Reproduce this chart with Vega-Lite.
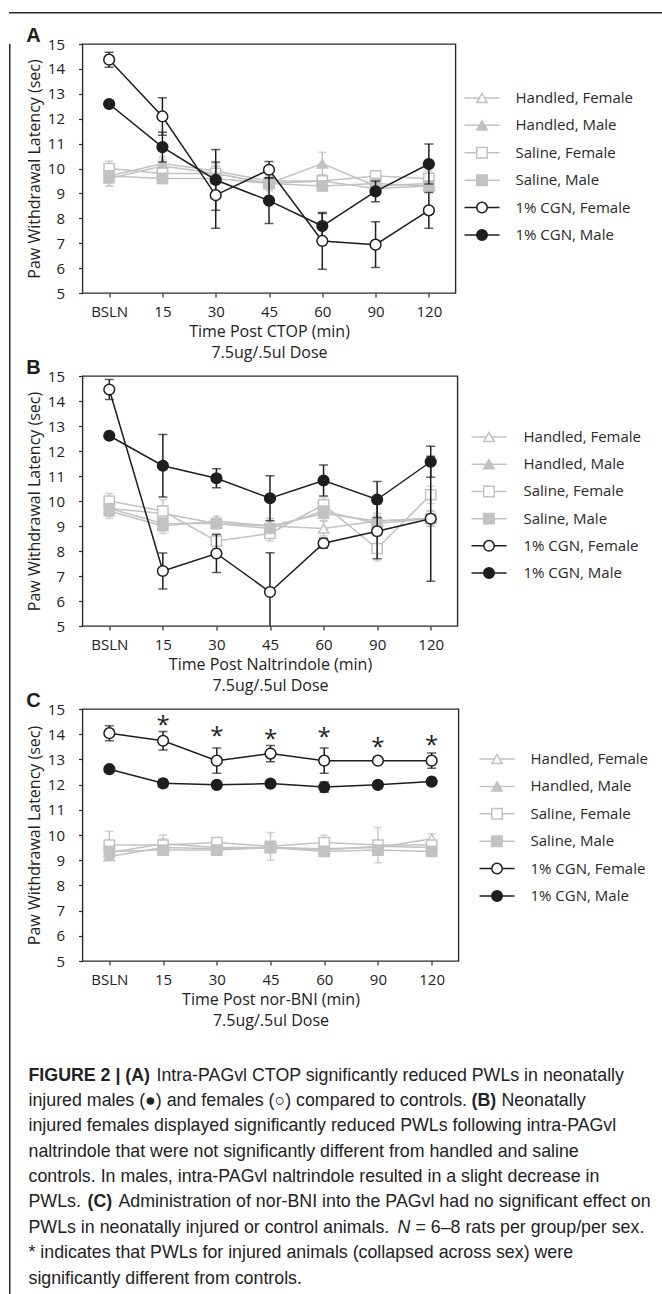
{
  "$schema": "https://vega.github.io/schema/vega-lite/v6.json",
  "background": "white",
  "padding": {"left": 9, "top": 12, "right": 0, "bottom": 0},
  "columns": 1,
  "align": "none",
  "spacing": 0,
  "datasets": {
    "pwl": [
      {"panel":"A","series":"Handled, Female","time":"BSLN","value":9.7,"err":0.25},
      {"panel":"A","series":"Handled, Female","time":"15","value":10.2,"err":0.25},
      {"panel":"A","series":"Handled, Female","time":"30","value":9.9,"err":0.3},
      {"panel":"A","series":"Handled, Female","time":"45","value":9.5,"err":0.25},
      {"panel":"A","series":"Handled, Female","time":"60","value":9.5,"err":0.25},
      {"panel":"A","series":"Handled, Female","time":"90","value":9.2,"err":0.2},
      {"panel":"A","series":"Handled, Female","time":"120","value":9.3,"err":0.25},
      {"panel":"A","series":"Handled, Male","time":"BSLN","value":9.6,"err":0.3},
      {"panel":"A","series":"Handled, Male","time":"15","value":10.1,"err":0.25},
      {"panel":"A","series":"Handled, Male","time":"30","value":9.8,"err":0.3},
      {"panel":"A","series":"Handled, Male","time":"45","value":9.4,"err":0.25},
      {"panel":"A","series":"Handled, Male","time":"60","value":10.2,"err":0.45},
      {"panel":"A","series":"Handled, Male","time":"90","value":9.3,"err":0.2},
      {"panel":"A","series":"Handled, Male","time":"120","value":9.4,"err":0.2},
      {"panel":"A","series":"Saline, Female","time":"BSLN","value":10.0,"err":0.3},
      {"panel":"A","series":"Saline, Female","time":"15","value":9.8,"err":0.3},
      {"panel":"A","series":"Saline, Female","time":"30","value":9.8,"err":0.3},
      {"panel":"A","series":"Saline, Female","time":"45","value":9.4,"err":0.3},
      {"panel":"A","series":"Saline, Female","time":"60","value":9.5,"err":0.25},
      {"panel":"A","series":"Saline, Female","time":"90","value":9.7,"err":0.2},
      {"panel":"A","series":"Saline, Female","time":"120","value":9.6,"err":0.3},
      {"panel":"A","series":"Saline, Male","time":"BSLN","value":9.7,"err":0.4},
      {"panel":"A","series":"Saline, Male","time":"15","value":9.6,"err":0.2},
      {"panel":"A","series":"Saline, Male","time":"30","value":9.6,"err":0.2},
      {"panel":"A","series":"Saline, Male","time":"45","value":9.4,"err":0.2},
      {"panel":"A","series":"Saline, Male","time":"60","value":9.3,"err":0.2},
      {"panel":"A","series":"Saline, Male","time":"90","value":9.4,"err":0.2},
      {"panel":"A","series":"Saline, Male","time":"120","value":9.3,"err":0.2},
      {"panel":"A","series":"1% CGN, Female","time":"BSLN","value":14.37,"err":0.3},
      {"panel":"A","series":"1% CGN, Female","time":"15","value":12.09,"err":0.75},
      {"panel":"A","series":"1% CGN, Female","time":"30","value":8.93,"err":1.33},
      {"panel":"A","series":"1% CGN, Female","time":"45","value":9.95,"err":0.33},
      {"panel":"A","series":"1% CGN, Female","time":"60","value":7.09,"err":1.14},
      {"panel":"A","series":"1% CGN, Female","time":"90","value":6.94,"err":0.92},
      {"panel":"A","series":"1% CGN, Female","time":"120","value":8.32,"err":0.72},
      {"panel":"A","series":"1% CGN, Male","time":"BSLN","value":12.59,"err":0.1},
      {"panel":"A","series":"1% CGN, Male","time":"15","value":10.86,"err":0.6},
      {"panel":"A","series":"1% CGN, Male","time":"30","value":9.54,"err":1.22},
      {"panel":"A","series":"1% CGN, Male","time":"45","value":8.71,"err":0.92},
      {"panel":"A","series":"1% CGN, Male","time":"60","value":7.69,"err":0.5},
      {"panel":"A","series":"1% CGN, Male","time":"90","value":9.08,"err":0.42},
      {"panel":"A","series":"1% CGN, Male","time":"120","value":10.18,"err":0.8},

      {"panel":"B","series":"Handled, Female","time":"BSLN","value":9.7,"err":0.3},
      {"panel":"B","series":"Handled, Female","time":"15","value":9.5,"err":0.3},
      {"panel":"B","series":"Handled, Female","time":"30","value":9.1,"err":0.2},
      {"panel":"B","series":"Handled, Female","time":"45","value":9.0,"err":0.3},
      {"panel":"B","series":"Handled, Female","time":"60","value":8.9,"err":0.3},
      {"panel":"B","series":"Handled, Female","time":"90","value":9.2,"err":0.3},
      {"panel":"B","series":"Handled, Female","time":"120","value":9.3,"err":0.3},
      {"panel":"B","series":"Handled, Male","time":"BSLN","value":9.6,"err":0.3},
      {"panel":"B","series":"Handled, Male","time":"15","value":9.0,"err":0.3},
      {"panel":"B","series":"Handled, Male","time":"30","value":9.2,"err":0.2},
      {"panel":"B","series":"Handled, Male","time":"45","value":9.0,"err":0.3},
      {"panel":"B","series":"Handled, Male","time":"60","value":9.5,"err":0.3},
      {"panel":"B","series":"Handled, Male","time":"90","value":9.2,"err":0.3},
      {"panel":"B","series":"Handled, Male","time":"120","value":9.3,"err":0.3},
      {"panel":"B","series":"Saline, Female","time":"BSLN","value":10.0,"err":0.3},
      {"panel":"B","series":"Saline, Female","time":"15","value":9.6,"err":0.45},
      {"panel":"B","series":"Saline, Female","time":"30","value":8.4,"err":0.3},
      {"panel":"B","series":"Saline, Female","time":"45","value":8.7,"err":0.3},
      {"panel":"B","series":"Saline, Female","time":"60","value":9.85,"err":0.3},
      {"panel":"B","series":"Saline, Female","time":"90","value":8.1,"err":0.5},
      {"panel":"B","series":"Saline, Female","time":"120","value":10.25,"err":0.35},
      {"panel":"B","series":"Saline, Male","time":"BSLN","value":9.7,"err":0.3},
      {"panel":"B","series":"Saline, Male","time":"15","value":9.1,"err":0.3},
      {"panel":"B","series":"Saline, Male","time":"30","value":9.1,"err":0.2},
      {"panel":"B","series":"Saline, Male","time":"45","value":8.9,"err":0.3},
      {"panel":"B","series":"Saline, Male","time":"60","value":9.6,"err":0.3},
      {"panel":"B","series":"Saline, Male","time":"90","value":9.1,"err":0.3},
      {"panel":"B","series":"Saline, Male","time":"120","value":9.3,"err":0.3},
      {"panel":"B","series":"1% CGN, Female","time":"BSLN","value":14.46,"err":0.4},
      {"panel":"B","series":"1% CGN, Female","time":"15","value":7.2,"err":0.72},
      {"panel":"B","series":"1% CGN, Female","time":"30","value":7.9,"err":0.76},
      {"panel":"B","series":"1% CGN, Female","time":"45","value":6.36,"err":1.57},
      {"panel":"B","series":"1% CGN, Female","time":"60","value":8.31,"err":0.2},
      {"panel":"B","series":"1% CGN, Female","time":"90","value":8.79,"err":1.1},
      {"panel":"B","series":"1% CGN, Female","time":"120","value":9.29,"err":2.5},
      {"panel":"B","series":"1% CGN, Male","time":"BSLN","value":12.61,"err":0.1},
      {"panel":"B","series":"1% CGN, Male","time":"15","value":11.41,"err":1.25},
      {"panel":"B","series":"1% CGN, Male","time":"30","value":10.91,"err":0.38},
      {"panel":"B","series":"1% CGN, Male","time":"45","value":10.11,"err":0.9},
      {"panel":"B","series":"1% CGN, Male","time":"60","value":10.82,"err":0.62},
      {"panel":"B","series":"1% CGN, Male","time":"90","value":10.06,"err":0.72},
      {"panel":"B","series":"1% CGN, Male","time":"120","value":11.57,"err":0.62},

      {"panel":"C","series":"Handled, Female","time":"BSLN","value":9.3,"err":0.2},
      {"panel":"C","series":"Handled, Female","time":"15","value":9.65,"err":0.2},
      {"panel":"C","series":"Handled, Female","time":"30","value":9.5,"err":0.2},
      {"panel":"C","series":"Handled, Female","time":"45","value":9.5,"err":0.2},
      {"panel":"C","series":"Handled, Female","time":"60","value":9.45,"err":0.2},
      {"panel":"C","series":"Handled, Female","time":"90","value":9.5,"err":0.2},
      {"panel":"C","series":"Handled, Female","time":"120","value":9.85,"err":0.2},
      {"panel":"C","series":"Handled, Male","time":"BSLN","value":9.15,"err":0.15},
      {"panel":"C","series":"Handled, Male","time":"15","value":9.5,"err":0.15},
      {"panel":"C","series":"Handled, Male","time":"30","value":9.45,"err":0.15},
      {"panel":"C","series":"Handled, Male","time":"45","value":9.5,"err":0.15},
      {"panel":"C","series":"Handled, Male","time":"60","value":9.4,"err":0.15},
      {"panel":"C","series":"Handled, Male","time":"90","value":9.55,"err":0.15},
      {"panel":"C","series":"Handled, Male","time":"120","value":9.5,"err":0.15},
      {"panel":"C","series":"Saline, Female","time":"BSLN","value":9.6,"err":0.55},
      {"panel":"C","series":"Saline, Female","time":"15","value":9.6,"err":0.4},
      {"panel":"C","series":"Saline, Female","time":"30","value":9.7,"err":0.2},
      {"panel":"C","series":"Saline, Female","time":"45","value":9.55,"err":0.55},
      {"panel":"C","series":"Saline, Female","time":"60","value":9.7,"err":0.3},
      {"panel":"C","series":"Saline, Female","time":"90","value":9.6,"err":0.7},
      {"panel":"C","series":"Saline, Female","time":"120","value":9.6,"err":0.2},
      {"panel":"C","series":"Saline, Male","time":"BSLN","value":9.35,"err":0.15},
      {"panel":"C","series":"Saline, Male","time":"15","value":9.4,"err":0.15},
      {"panel":"C","series":"Saline, Male","time":"30","value":9.4,"err":0.15},
      {"panel":"C","series":"Saline, Male","time":"45","value":9.5,"err":0.15},
      {"panel":"C","series":"Saline, Male","time":"60","value":9.35,"err":0.15},
      {"panel":"C","series":"Saline, Male","time":"90","value":9.4,"err":0.15},
      {"panel":"C","series":"Saline, Male","time":"120","value":9.35,"err":0.15},
      {"panel":"C","series":"1% CGN, Female","time":"BSLN","value":14.04,"err":0.3},
      {"panel":"C","series":"1% CGN, Female","time":"15","value":13.74,"err":0.37},
      {"panel":"C","series":"1% CGN, Female","time":"30","value":12.95,"err":0.5},
      {"panel":"C","series":"1% CGN, Female","time":"45","value":13.23,"err":0.32},
      {"panel":"C","series":"1% CGN, Female","time":"60","value":12.95,"err":0.5},
      {"panel":"C","series":"1% CGN, Female","time":"90","value":12.95,"err":0.08},
      {"panel":"C","series":"1% CGN, Female","time":"120","value":12.95,"err":0.3},
      {"panel":"C","series":"1% CGN, Male","time":"BSLN","value":12.61,"err":0.1},
      {"panel":"C","series":"1% CGN, Male","time":"15","value":12.05,"err":0.15},
      {"panel":"C","series":"1% CGN, Male","time":"30","value":11.99,"err":0.1},
      {"panel":"C","series":"1% CGN, Male","time":"45","value":12.04,"err":0.1},
      {"panel":"C","series":"1% CGN, Male","time":"60","value":11.9,"err":0.2},
      {"panel":"C","series":"1% CGN, Male","time":"90","value":11.99,"err":0.12},
      {"panel":"C","series":"1% CGN, Male","time":"120","value":12.12,"err":0.15}
    ],
    "stars": [
      {"panel":"C","time":"15","value":14.57},
      {"panel":"C","time":"30","value":14.11},
      {"panel":"C","time":"45","value":14.0},
      {"panel":"C","time":"60","value":14.08},
      {"panel":"C","time":"90","value":13.68},
      {"panel":"C","time":"120","value":13.77}
    ],
    "series": [
      {"series":"Handled, Female"},
      {"series":"Handled, Male"},
      {"series":"Saline, Female"},
      {"series":"Saline, Male"},
      {"series":"1% CGN, Female"},
      {"series":"1% CGN, Male"}
    ],
    "caption": [
      {"line":1,"part":"b","text":"FIGURE 2 | (A)"},
      {"line":1,"part":"m","text":"Intra-PAGvl CTOP significantly reduced PWLs in neonatally"},
      {"line":2,"part":"a","text":"injured males (●) and females (○) compared to controls."},
      {"line":2,"part":"b","text":"(B)"},
      {"line":2,"part":"m","text":"Neonatally"},
      {"line":3,"part":"a","text":"injured females displayed significantly reduced PWLs following intra-PAGvl"},
      {"line":4,"part":"a","text":"naltrindole that were not significantly different from handled and saline"},
      {"line":5,"part":"a","text":"controls. In males, intra-PAGvl naltrindole resulted in a slight decrease in"},
      {"line":6,"part":"a","text":"PWLs."},
      {"line":6,"part":"b","text":"(C)"},
      {"line":6,"part":"m","text":"Administration of nor-BNI into the PAGvl had no significant effect on"},
      {"line":7,"part":"a","text":"PWLs in neonatally injured or control animals."},
      {"line":7,"part":"i","text":"N"},
      {"line":7,"part":"m","text":"= 6–8 rats per group/per sex."},
      {"line":8,"part":"a","text":"* indicates that PWLs for injured animals (collapsed across sex) were"},
      {"line":9,"part":"a","text":"significantly different from controls."}
    ]
  },
  "concat": [
    {"width": 653, "height": 1.5, "data": {"values": []}, "mark": "point", "view": {"stroke": null, "fill": "#2a2a2a"}},
    {
      "columns": 2,
      "align": "none",
      "spacing": 14.5,
      "concat": [
        {"width": 1.5, "height": 1280.5, "data": {"values": []}, "mark": "point", "view": {"stroke": null, "fill": "#2a2a2a"}},
        {
          "title": {"text": " ", "fontSize": 10, "offset": 0.5, "anchor": "start"},
          "columns": 1,
          "align": "none",
          "spacing": -4,
          "concat": [
            {
              "bounds": "flush",
              "center": true,
              "spacing": 9,
              "hconcat": [
                {
                  "width": 373, "height": 249,
                  "title": {"text": "A", "anchor": "start", "frame": "bounds", "font": "Liberation Sans", "fontSize": 20, "fontWeight": "bold", "color": "#1e1e1e", "baseline": "alphabetic", "offset": -25},
                  "data": {"name": "pwl"},
                  "transform": [{"filter": "datum.panel == 'A'"}],
                  "encoding": {
                    "x": {"field": "time", "type": "ordinal", "scale": {"type": "point", "domain": ["BSLN","15","30","45","60","90","120"], "padding": 0.5}, "axis": {"title": ["Time Post CTOP (min)", "7.5ug/.5ul Dose"]}},
                    "y": {"field": "value", "type": "quantitative", "scale": {"domain": [5, 15], "nice": false, "zero": false}, "axis": {"title": "Paw Withdrawal Latency (sec)", "values": [5,6,7,8,9,10,11,12,13,14,15]}}
                  },
                  "layer": [
                    {"transform": [{"filter": "indexof(datum.series, 'CGN') < 0"}], "mark": {"type": "line", "strokeWidth": 1.5}, "encoding": {"order": {"value": null}, "stroke": {"field": "series", "type": "nominal", "scale": {"domain": ["Handled, Female","Handled, Male","Saline, Female","Saline, Male","1% CGN, Female","1% CGN, Male"], "range": ["#c2c2c2","#c2c2c2","#c2c2c2","#c2c2c2","#1e1e1e","#1e1e1e"]}, "legend": null}}},
                    {"transform": [{"filter": "indexof(datum.series, 'CGN') < 0"}], "mark": {"type": "errorbar", "color": "#c2c2c2", "thickness": 1.4, "ticks": {"size": 8}, "clip": true}, "encoding": {"yError": {"field": "err"}}},
                    {"transform": [{"filter": "indexof(datum.series, 'CGN') < 0"}], "mark": {"type": "point", "size": 105, "strokeWidth": 1.5, "opacity": 1}, "encoding": {
                      "shape": {"field": "series", "type": "nominal", "scale": {"domain": ["Handled, Female","Handled, Male","Saline, Female","Saline, Male","1% CGN, Female","1% CGN, Male"], "range": ["triangle-up","triangle-up","square","square","circle","circle"]}, "legend": null},
                      "fill": {"field": "series", "type": "nominal", "scale": {"domain": ["Handled, Female","Handled, Male","Saline, Female","Saline, Male","1% CGN, Female","1% CGN, Male"], "range": ["#ffffff","#c2c2c2","#ffffff","#c2c2c2","#ffffff","#1e1e1e"]}, "legend": null},
                      "stroke": {"field": "series", "type": "nominal", "legend": null}}},
                    {"transform": [{"filter": "indexof(datum.series, 'CGN') >= 0"}], "mark": {"type": "errorbar", "color": "#1e1e1e", "thickness": 1.5, "ticks": {"size": 9}, "clip": true}, "encoding": {"yError": {"field": "err"}}},
                    {"transform": [{"filter": "indexof(datum.series, 'CGN') >= 0"}], "mark": {"type": "line", "strokeWidth": 1.5}, "encoding": {"order": {"value": null}, "stroke": {"field": "series", "type": "nominal", "legend": null}}},
                    {"transform": [{"filter": "indexof(datum.series, 'CGN') >= 0"}], "mark": {"type": "point", "size": 115, "strokeWidth": 1.5, "opacity": 1}, "encoding": {
                      "shape": {"field": "series", "type": "nominal", "legend": null},
                      "fill": {"field": "series", "type": "nominal", "legend": null},
                      "stroke": {"field": "series", "type": "nominal", "legend": null}}}
                  ]
                },
                {
                  "width": 35, "height": 191.8,
                  "view": {"stroke": null},
                  "data": {"name": "series"},
                  "encoding": {"y": {"field": "series", "type": "nominal", "scale": {"type": "point", "domain": ["Handled, Female","Handled, Male","Saline, Female","Saline, Male","1% CGN, Female","1% CGN, Male"], "padding": 1, "align": 0.463}, "axis": null}},
                  "layer": [
                    {"mark": {"type": "rule", "strokeWidth": 1.5}, "encoding": {"x": {"datum": 0, "type": "quantitative", "scale": {"domain": [0, 1], "nice": false}, "axis": null}, "x2": {"datum": 1}, "stroke": {"field": "series", "type": "nominal", "scale": {"domain": ["Handled, Female","Handled, Male","Saline, Female","Saline, Male","1% CGN, Female","1% CGN, Male"], "range": ["#c2c2c2","#c2c2c2","#c2c2c2","#c2c2c2","#1e1e1e","#1e1e1e"]}, "legend": null}}},
                    {"mark": {"type": "point", "size": 110, "strokeWidth": 1.5, "opacity": 1}, "encoding": {"x": {"datum": 0.5, "type": "quantitative"},
                      "shape": {"field": "series", "type": "nominal", "scale": {"domain": ["Handled, Female","Handled, Male","Saline, Female","Saline, Male","1% CGN, Female","1% CGN, Male"], "range": ["triangle-up","triangle-up","square","square","circle","circle"]}, "legend": null},
                      "fill": {"field": "series", "type": "nominal", "scale": {"domain": ["Handled, Female","Handled, Male","Saline, Female","Saline, Male","1% CGN, Female","1% CGN, Male"], "range": ["#ffffff","#c2c2c2","#ffffff","#c2c2c2","#ffffff","#1e1e1e"]}, "legend": null},
                      "stroke": {"field": "series", "type": "nominal", "legend": null}}},
                    {"mark": {"type": "text", "align": "left", "baseline": "middle", "dx": 16, "font": "Open Sans", "fontSize": 15, "color": "#2a2a2a"}, "encoding": {"x": {"datum": 1, "type": "quantitative"}, "text": {"field": "series"}}}
                  ]
                }
              ]
            },
            {
              "bounds": "flush",
              "center": true,
              "spacing": 14,
              "hconcat": [
                {
                  "width": 375, "height": 250,
                  "title": {"text": "B", "anchor": "start", "frame": "bounds", "font": "Liberation Sans", "fontSize": 20, "fontWeight": "bold", "color": "#1e1e1e", "baseline": "alphabetic", "offset": -25},
                  "data": {"name": "pwl"},
                  "transform": [{"filter": "datum.panel == 'B'"}],
                  "encoding": {
                    "x": {"field": "time", "type": "ordinal", "scale": {"type": "point", "domain": ["BSLN","15","30","45","60","90","120"], "padding": 0.5}, "axis": {"title": ["Time Post Naltrindole (min)", "7.5ug/.5ul Dose"]}},
                    "y": {"field": "value", "type": "quantitative", "scale": {"domain": [5, 15], "nice": false, "zero": false}, "axis": {"title": "Paw Withdrawal Latency (sec)", "values": [5,6,7,8,9,10,11,12,13,14,15]}}
                  },
                  "layer": [
                    {"transform": [{"filter": "indexof(datum.series, 'CGN') < 0"}], "mark": {"type": "line", "strokeWidth": 1.5}, "encoding": {"order": {"value": null}, "stroke": {"field": "series", "type": "nominal", "scale": {"domain": ["Handled, Female","Handled, Male","Saline, Female","Saline, Male","1% CGN, Female","1% CGN, Male"], "range": ["#c2c2c2","#c2c2c2","#c2c2c2","#c2c2c2","#1e1e1e","#1e1e1e"]}, "legend": null}}},
                    {"transform": [{"filter": "indexof(datum.series, 'CGN') < 0"}], "mark": {"type": "errorbar", "color": "#c2c2c2", "thickness": 1.4, "ticks": {"size": 8}, "clip": true}, "encoding": {"yError": {"field": "err"}}},
                    {"transform": [{"filter": "indexof(datum.series, 'CGN') < 0"}], "mark": {"type": "point", "size": 105, "strokeWidth": 1.5, "opacity": 1}, "encoding": {
                      "shape": {"field": "series", "type": "nominal", "scale": {"domain": ["Handled, Female","Handled, Male","Saline, Female","Saline, Male","1% CGN, Female","1% CGN, Male"], "range": ["triangle-up","triangle-up","square","square","circle","circle"]}, "legend": null},
                      "fill": {"field": "series", "type": "nominal", "scale": {"domain": ["Handled, Female","Handled, Male","Saline, Female","Saline, Male","1% CGN, Female","1% CGN, Male"], "range": ["#ffffff","#c2c2c2","#ffffff","#c2c2c2","#ffffff","#1e1e1e"]}, "legend": null},
                      "stroke": {"field": "series", "type": "nominal", "legend": null}}},
                    {"transform": [{"filter": "indexof(datum.series, 'CGN') >= 0"}], "mark": {"type": "errorbar", "color": "#1e1e1e", "thickness": 1.5, "ticks": {"size": 9}, "clip": true}, "encoding": {"yError": {"field": "err"}}},
                    {"transform": [{"filter": "indexof(datum.series, 'CGN') >= 0"}], "mark": {"type": "line", "strokeWidth": 1.5}, "encoding": {"order": {"value": null}, "stroke": {"field": "series", "type": "nominal", "legend": null}}},
                    {"transform": [{"filter": "indexof(datum.series, 'CGN') >= 0"}], "mark": {"type": "point", "size": 115, "strokeWidth": 1.5, "opacity": 1}, "encoding": {
                      "shape": {"field": "series", "type": "nominal", "legend": null},
                      "fill": {"field": "series", "type": "nominal", "legend": null},
                      "stroke": {"field": "series", "type": "nominal", "legend": null}}}
                  ]
                },
                {
                  "width": 35, "height": 190.4,
                  "view": {"stroke": null},
                  "data": {"name": "series"},
                  "encoding": {"y": {"field": "series", "type": "nominal", "scale": {"type": "point", "domain": ["Handled, Female","Handled, Male","Saline, Female","Saline, Male","1% CGN, Female","1% CGN, Male"], "padding": 1, "align": 0.574}, "axis": null}},
                  "layer": [
                    {"mark": {"type": "rule", "strokeWidth": 1.5}, "encoding": {"x": {"datum": 0, "type": "quantitative", "scale": {"domain": [0, 1], "nice": false}, "axis": null}, "x2": {"datum": 1}, "stroke": {"field": "series", "type": "nominal", "scale": {"domain": ["Handled, Female","Handled, Male","Saline, Female","Saline, Male","1% CGN, Female","1% CGN, Male"], "range": ["#c2c2c2","#c2c2c2","#c2c2c2","#c2c2c2","#1e1e1e","#1e1e1e"]}, "legend": null}}},
                    {"mark": {"type": "point", "size": 110, "strokeWidth": 1.5, "opacity": 1}, "encoding": {"x": {"datum": 0.5, "type": "quantitative"},
                      "shape": {"field": "series", "type": "nominal", "scale": {"domain": ["Handled, Female","Handled, Male","Saline, Female","Saline, Male","1% CGN, Female","1% CGN, Male"], "range": ["triangle-up","triangle-up","square","square","circle","circle"]}, "legend": null},
                      "fill": {"field": "series", "type": "nominal", "scale": {"domain": ["Handled, Female","Handled, Male","Saline, Female","Saline, Male","1% CGN, Female","1% CGN, Male"], "range": ["#ffffff","#c2c2c2","#ffffff","#c2c2c2","#ffffff","#1e1e1e"]}, "legend": null},
                      "stroke": {"field": "series", "type": "nominal", "legend": null}}},
                    {"mark": {"type": "text", "align": "left", "baseline": "middle", "dx": 17, "font": "Open Sans", "fontSize": 15, "color": "#2a2a2a"}, "encoding": {"x": {"datum": 1, "type": "quantitative"}, "text": {"field": "series"}}}
                  ]
                }
              ]
            },
            {
              "bounds": "flush",
              "center": true,
              "spacing": 21,
              "hconcat": [
                {
                  "width": 376, "height": 252,
                  "title": {"text": "C", "anchor": "start", "frame": "bounds", "font": "Liberation Sans", "fontSize": 20, "fontWeight": "bold", "color": "#1e1e1e", "baseline": "alphabetic", "offset": -25},
                  "data": {"name": "pwl"},
                  "transform": [{"filter": "datum.panel == 'C'"}],
                  "encoding": {
                    "x": {"field": "time", "type": "ordinal", "scale": {"type": "point", "domain": ["BSLN","15","30","45","60","90","120"], "padding": 0.5}, "axis": {"title": ["Time Post nor-BNI (min)", "7.5ug/.5ul Dose"]}},
                    "y": {"field": "value", "type": "quantitative", "scale": {"domain": [5, 15], "nice": false, "zero": false}, "axis": {"title": "Paw Withdrawal Latency (sec)", "values": [5,6,7,8,9,10,11,12,13,14,15]}}
                  },
                  "layer": [
                    {"transform": [{"filter": "indexof(datum.series, 'CGN') < 0"}], "mark": {"type": "line", "strokeWidth": 1.5}, "encoding": {"order": {"value": null}, "stroke": {"field": "series", "type": "nominal", "scale": {"domain": ["Handled, Female","Handled, Male","Saline, Female","Saline, Male","1% CGN, Female","1% CGN, Male"], "range": ["#c2c2c2","#c2c2c2","#c2c2c2","#c2c2c2","#1e1e1e","#1e1e1e"]}, "legend": null}}},
                    {"transform": [{"filter": "indexof(datum.series, 'CGN') < 0"}], "mark": {"type": "errorbar", "color": "#c2c2c2", "thickness": 1.4, "ticks": {"size": 8}, "clip": true}, "encoding": {"yError": {"field": "err"}}},
                    {"transform": [{"filter": "indexof(datum.series, 'CGN') < 0"}], "mark": {"type": "point", "size": 105, "strokeWidth": 1.5, "opacity": 1}, "encoding": {
                      "shape": {"field": "series", "type": "nominal", "scale": {"domain": ["Handled, Female","Handled, Male","Saline, Female","Saline, Male","1% CGN, Female","1% CGN, Male"], "range": ["triangle-up","triangle-up","square","square","circle","circle"]}, "legend": null},
                      "fill": {"field": "series", "type": "nominal", "scale": {"domain": ["Handled, Female","Handled, Male","Saline, Female","Saline, Male","1% CGN, Female","1% CGN, Male"], "range": ["#ffffff","#c2c2c2","#ffffff","#c2c2c2","#ffffff","#1e1e1e"]}, "legend": null},
                      "stroke": {"field": "series", "type": "nominal", "legend": null}}},
                    {"transform": [{"filter": "indexof(datum.series, 'CGN') >= 0"}], "mark": {"type": "errorbar", "color": "#1e1e1e", "thickness": 1.5, "ticks": {"size": 9}, "clip": true}, "encoding": {"yError": {"field": "err"}}},
                    {"transform": [{"filter": "indexof(datum.series, 'CGN') >= 0"}], "mark": {"type": "line", "strokeWidth": 1.5}, "encoding": {"order": {"value": null}, "stroke": {"field": "series", "type": "nominal", "legend": null}}},
                    {"transform": [{"filter": "indexof(datum.series, 'CGN') >= 0"}], "mark": {"type": "point", "size": 115, "strokeWidth": 1.5, "opacity": 1}, "encoding": {
                      "shape": {"field": "series", "type": "nominal", "legend": null},
                      "fill": {"field": "series", "type": "nominal", "legend": null},
                      "stroke": {"field": "series", "type": "nominal", "legend": null}}},
                    {"data": {"name": "stars"}, "mark": {"type": "text", "font": "Open Sans", "fontSize": 24, "baseline": "alphabetic", "dy": 13, "color": "#1e1e1e"}, "encoding": {"text": {"value": "*"}}}
                  ]
                },
                {
                  "width": 35, "height": 191.8,
                  "view": {"stroke": null},
                  "data": {"name": "series"},
                  "encoding": {"y": {"field": "series", "type": "nominal", "scale": {"type": "point", "domain": ["Handled, Female","Handled, Male","Saline, Female","Saline, Male","1% CGN, Female","1% CGN, Male"], "padding": 1, "align": 0.363}, "axis": null}},
                  "layer": [
                    {"mark": {"type": "rule", "strokeWidth": 1.5}, "encoding": {"x": {"datum": 0, "type": "quantitative", "scale": {"domain": [0, 1], "nice": false}, "axis": null}, "x2": {"datum": 1}, "stroke": {"field": "series", "type": "nominal", "scale": {"domain": ["Handled, Female","Handled, Male","Saline, Female","Saline, Male","1% CGN, Female","1% CGN, Male"], "range": ["#c2c2c2","#c2c2c2","#c2c2c2","#c2c2c2","#1e1e1e","#1e1e1e"]}, "legend": null}}},
                    {"mark": {"type": "point", "size": 110, "strokeWidth": 1.5, "opacity": 1}, "encoding": {"x": {"datum": 0.5, "type": "quantitative"},
                      "shape": {"field": "series", "type": "nominal", "scale": {"domain": ["Handled, Female","Handled, Male","Saline, Female","Saline, Male","1% CGN, Female","1% CGN, Male"], "range": ["triangle-up","triangle-up","square","square","circle","circle"]}, "legend": null},
                      "fill": {"field": "series", "type": "nominal", "scale": {"domain": ["Handled, Female","Handled, Male","Saline, Female","Saline, Male","1% CGN, Female","1% CGN, Male"], "range": ["#ffffff","#c2c2c2","#ffffff","#c2c2c2","#ffffff","#1e1e1e"]}, "legend": null},
                      "stroke": {"field": "series", "type": "nominal", "legend": null}}},
                    {"mark": {"type": "text", "align": "left", "baseline": "middle", "dx": 16, "font": "Open Sans", "fontSize": 15, "color": "#2a2a2a"}, "encoding": {"x": {"datum": 1, "type": "quantitative"}, "text": {"field": "series"}}}
                  ]
                }
              ]
            },
            {
              "width": 560, "height": 253.5,
              "view": {"stroke": null},
              "data": {"name": "caption"},
              "encoding": {
                "y": {"field": "line", "type": "ordinal", "scale": {"type": "point", "domain": [1,2,3,4,5,6,7,8,9], "padding": 1, "align": 1}, "axis": null},
                "x": {"datum": 0, "type": "quantitative", "scale": {"domain": [0, 1], "nice": false}, "axis": null},
                "text": {"field": "text"}
              },
              "layer": [
                {"transform": [{"filter": "datum.part == 'a'"}], "mark": {"type": "text", "align": "left", "baseline": "middle", "dx": -54, "font": "Liberation Sans", "fontSize": 17.8, "color": "#222222"}},
                {"transform": [{"filter": "datum.part == 'b' && datum.line == 1"}], "mark": {"type": "text", "align": "left", "baseline": "middle", "dx": -54, "font": "Liberation Sans", "fontWeight": "bold", "fontSize": 17.8, "color": "#222222"}},
                {"transform": [{"filter": "datum.part == 'b' && datum.line == 2"}], "mark": {"type": "text", "align": "left", "baseline": "middle", "dx": 389, "font": "Liberation Sans", "fontWeight": "bold", "fontSize": 17.8, "color": "#222222"}},
                {"transform": [{"filter": "datum.part == 'b' && datum.line == 6"}], "mark": {"type": "text", "align": "left", "baseline": "middle", "dx": 5, "font": "Liberation Sans", "fontWeight": "bold", "fontSize": 17.8, "color": "#222222"}},
                {"transform": [{"filter": "datum.part == 'm' && datum.line == 1"}], "mark": {"type": "text", "align": "left", "baseline": "middle", "dx": 74, "font": "Liberation Sans", "fontSize": 17.8, "color": "#222222"}},
                {"transform": [{"filter": "datum.part == 'm' && datum.line == 2"}], "mark": {"type": "text", "align": "left", "baseline": "middle", "dx": 419, "font": "Liberation Sans", "fontSize": 17.8, "color": "#222222"}},
                {"transform": [{"filter": "datum.part == 'm' && datum.line == 6"}], "mark": {"type": "text", "align": "left", "baseline": "middle", "dx": 36, "font": "Liberation Sans", "fontSize": 17.8, "color": "#222222"}},
                {"transform": [{"filter": "datum.part == 'i' && datum.line == 7"}], "mark": {"type": "text", "align": "left", "baseline": "middle", "dx": 315, "font": "Liberation Sans", "fontStyle": "italic", "fontSize": 17.8, "color": "#222222"}},
                {"transform": [{"filter": "datum.part == 'm' && datum.line == 7"}], "mark": {"type": "text", "align": "left", "baseline": "middle", "dx": 333, "font": "Liberation Sans", "fontSize": 17.8, "color": "#222222"}}
              ]
            }
          ]
        }
      ]
    }
  ],
  "config": {
    "font": "Open Sans",
    "view": {"stroke": "#2a2a2a", "strokeWidth": 1.4},
    "axis": {"grid": false, "domain": false, "tickColor": "#2a2a2a", "tickSize": 4, "tickWidth": 1.2, "labelFont": "Open Sans", "labelFontSize": 15, "labelColor": "#222222", "titleFont": "Open Sans", "titleFontSize": 16, "titleFontWeight": "normal", "titleColor": "#222222"},
    "axisX": {"labelAngle": 0, "labelPadding": 7, "titlePadding": 4, "titleLineHeight": 21},
    "axisY": {"labelPadding": 14, "titlePadding": 5, "titleFontSize": 16}
  }
}
